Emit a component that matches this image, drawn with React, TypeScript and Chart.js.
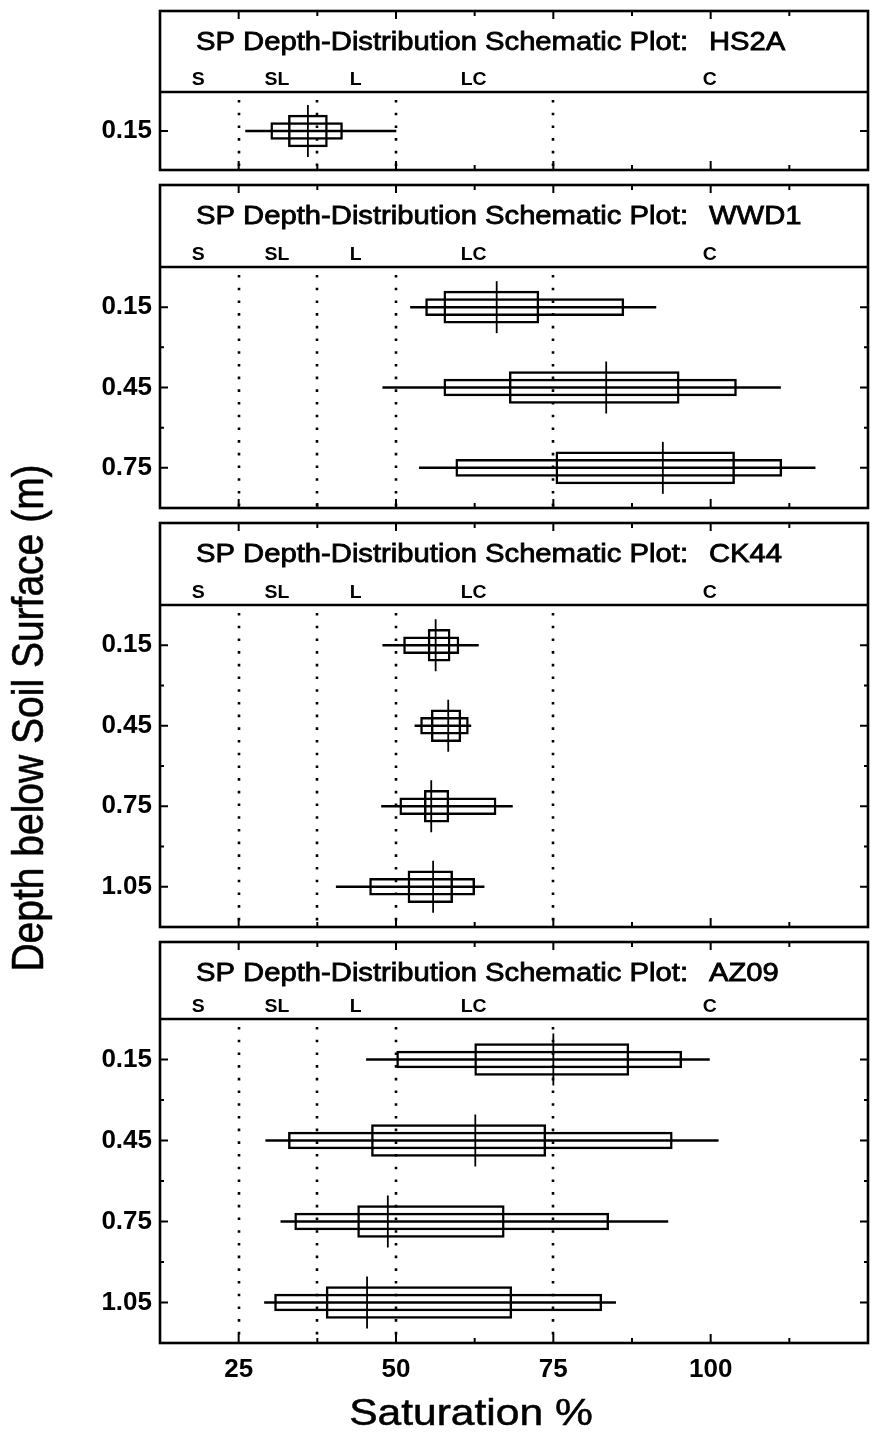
import React, { useEffect, useRef } from 'react';
import { Chart, registerables } from 'chart.js';

Chart.register(...registerables);

const FONT = '"Liberation Sans", Arial, Helvetica, sans-serif';

// ---- x axis: saturation % ----
const xMin = 12.5;
const xMax = 125;
const xStep = 12.5;
const xLabeledTicks = [25, 50, 75, 100];

// ---- soil texture classes shown in each header ----
const textureNames = ['S', 'SL', 'L', 'LC', 'C'];
const textureLabelAt = [18.75, 31.25, 43.75, 62.5, 100];
const textureBoundaries = [25, 37.5, 50, 75];

// ---- y axis: depth (m) ----
const depthStep = 0.15;
const siteMaxDepth = [0.3, 0.9, 1.2, 1.2];

// ---- site ids ----
const siteIds = ['HS2A', 'WWD1', 'CK44', 'AZ09'];

// ---- HS2A ----
const hs2aDepth = [0.15];
const hs2aMin = [26.1];
const hs2aP10 = [30.1];
const hs2aP25 = [32.9];
const hs2aMedian = [36.0];
const hs2aP75 = [39.1];
const hs2aP90 = [41.5];
const hs2aMax = [50.0];

// ---- WWD1 ----
const wwd1Depth = [0.15, 0.45, 0.75];
const wwd1Min = [52.3, 47.9, 53.7];
const wwd1P10 = [54.7, 57.6, 59.5];
const wwd1P25 = [57.6, 68.0, 75.4];
const wwd1Median = [66.0, 83.4, 92.4];
const wwd1P75 = [72.7, 95.0, 103.8];
const wwd1P90 = [86.2, 104.1, 111.3];
const wwd1Max = [91.3, 111.1, 116.6];

// ---- CK44 ----
const ck44Depth = [0.15, 0.45, 0.75, 1.05];
const ck44Min = [47.9, 53.0, 47.7, 40.5];
const ck44P10 = [51.2, 53.9, 50.6, 45.8];
const ck44P25 = [55.1, 55.6, 54.5, 51.9];
const ck44Median = [56.3, 58.3, 55.6, 55.9];
const ck44P75 = [58.6, 60.3, 58.4, 59.0];
const ck44P90 = [60.0, 61.5, 65.9, 62.5];
const ck44Max = [63.1, 61.9, 68.5, 64.0];

// ---- AZ09 ----
const az09Depth = [0.15, 0.45, 0.75, 1.05];
const az09Min = [45.3, 29.3, 31.7, 29.1];
const az09P10 = [50.1, 32.9, 33.9, 30.7];
const az09P25 = [62.5, 46.1, 43.9, 38.9];
const az09Median = [75.0, 62.6, 48.7, 45.4];
const az09P75 = [87.0, 73.8, 67.2, 68.4];
const az09P90 = [95.4, 93.9, 83.8, 82.7];
const az09Max = [99.8, 101.2, 93.2, 84.9];

const sites = [
  { depth: hs2aDepth, min: hs2aMin, p10: hs2aP10, p25: hs2aP25, med: hs2aMedian, p75: hs2aP75, p90: hs2aP90, max: hs2aMax },
  { depth: wwd1Depth, min: wwd1Min, p10: wwd1P10, p25: wwd1P25, med: wwd1Median, p75: wwd1P75, p90: wwd1P90, max: wwd1Max },
  { depth: ck44Depth, min: ck44Min, p10: ck44P10, p25: ck44P25, med: ck44Median, p75: ck44P75, p90: ck44P90, max: ck44Max },
  { depth: az09Depth, min: az09Min, p10: az09P10, p25: az09P25, med: az09Median, p75: az09P75, p90: az09P90, max: az09Max },
];

// ---- page layout (pixels) ----
const PAGE_W = 880;
const PAGE_H = 1435;
const PLOT_LEFT = 160;
const PLOT_RIGHT = 868;
const panelLayout = [
  { top: 11, divider: 92, bottom: 170 },
  { top: 185, divider: 267, bottom: 508 },
  { top: 523, divider: 605, bottom: 927 },
  { top: 942, divider: 1019, bottom: 1343 },
];

function drawScaledText(ctx: CanvasRenderingContext2D, text: string, x: number, y: number, sx: number, stroke: number) {
  ctx.save();
  ctx.translate(x, y);
  ctx.scale(sx, 1);
  ctx.fillText(text, 0, 0);
  if (stroke > 0) {
    ctx.lineWidth = stroke;
    ctx.strokeText(text, 0, 0);
  }
  ctx.restore();
}

function Panel({ idx }: { idx: number }) {
  const ref = useRef<HTMLCanvasElement>(null);
  const L = panelLayout[idx];
  const isLast = idx === panelLayout.length - 1;
  const canvasTop = L.top - 6;
  const canvasBottom = isLast ? PAGE_H : L.bottom + 6;
  const h = canvasBottom - canvasTop;

  useEffect(() => {
    const s = sites[idx];
    const headerH = L.divider - L.top;

    const decor = {
      id: 'decor',
      beforeDatasetsDraw(chart: any) {
        const { ctx, chartArea: a, scales } = chart;
        const x = scales.x;
        ctx.save();
        ctx.strokeStyle = '#000';
        ctx.lineWidth = 2.6;
        ctx.setLineDash([2.6, 10.1]);
        ctx.lineDashOffset = -6;
        for (const v of textureBoundaries) {
          const px = Math.round(x.getPixelForValue(v));
          ctx.beginPath();
          ctx.moveTo(px, a.top + 2);
          ctx.lineTo(px, a.bottom - 1);
          ctx.stroke();
        }
        ctx.restore();
      },
      afterDatasetsDraw(chart: any) {
        const { ctx, chartArea: a, scales } = chart;
        const x = scales.x;
        const y = scales.y;
        const headerTop = a.top - headerH;
        ctx.save();
        ctx.strokeStyle = '#000';
        ctx.fillStyle = '#000';
        ctx.setLineDash([]);
        // frame + divider
        ctx.lineWidth = 2.6;
        ctx.strokeRect(a.left, headerTop, a.right - a.left, a.bottom - headerTop);
        ctx.beginPath();
        ctx.moveTo(a.left, a.top);
        ctx.lineTo(a.right, a.top);
        ctx.stroke();
        // x tick marks (header top & plot bottom, pointing inward)
        ctx.lineWidth = 2;
        x.ticks.forEach((t: any) => {
          if (t.value <= xMin + 1e-9 || t.value >= xMax - 1e-9) return;
          const px = x.getPixelForValue(t.value);
          const major = xLabeledTicks.includes(t.value);
          ctx.beginPath();
          ctx.moveTo(px, headerTop);
          ctx.lineTo(px, headerTop + (major ? 8 : 5));
          ctx.moveTo(px, a.bottom);
          ctx.lineTo(px, a.bottom - (major ? 9 : 5));
          ctx.stroke();
        });
        // y tick marks (left & right)
        y.ticks.forEach((t: any, i: number) => {
          if (t.value <= y.min + 1e-9 || t.value >= y.max - 1e-9) return;
          const py = y.getPixelForValue(t.value);
          const len = i % 2 === 1 ? 8 : 4;
          ctx.beginPath();
          ctx.moveTo(a.left, py);
          ctx.lineTo(a.left + len, py);
          ctx.moveTo(a.right, py);
          ctx.lineTo(a.right - len, py);
          ctx.stroke();
        });
        // header title
        ctx.font = `26px ${FONT}`;
        ctx.textAlign = 'left';
        ctx.textBaseline = 'alphabetic';
        const main = 'SP Depth-Distribution Schematic Plot:';
        const sx = 492 / ctx.measureText(main).width;
        const base = headerTop + 38.5;
        drawScaledText(ctx, main, 196, base, sx, 0.8);
        drawScaledText(ctx, siteIds[idx], 709, base, sx, 0.8);
        // texture class labels
        ctx.font = `bold 18px ${FONT}`;
        ctx.textAlign = 'center';
        textureNames.forEach((name, k) => {
          const px = x.getPixelForValue(textureLabelAt[k]);
          drawScaledText(ctx, name, px - 1, a.top - 7, 1.08, 0);
        });
        ctx.restore();
      },
    };

    const lineColor = '#000';
    const chart = new Chart(ref.current as HTMLCanvasElement, {
      type: 'bar',
      data: {
        datasets: [
          {
            type: 'bar',
            label: 'range',
            indexAxis: 'y',
            grouped: false,
            barThickness: 1.8,
            data: s.depth.map((d, i) => ({ x: [s.min[i], s.max[i]], y: d })),
            backgroundColor: lineColor,
            borderWidth: 0,
          } as any,
          {
            type: 'bar',
            label: '10-90',
            indexAxis: 'y',
            grouped: false,
            barThickness: 17,
            data: s.depth.map((d, i) => ({ x: [s.p10[i], s.p90[i]], y: d })),
            backgroundColor: 'rgba(0,0,0,0)',
            borderColor: lineColor,
            borderWidth: 1.8,
            borderSkipped: false,
          } as any,
          {
            type: 'bar',
            label: '25-75',
            indexAxis: 'y',
            grouped: false,
            barThickness: 32,
            data: s.depth.map((d, i) => ({ x: [s.p25[i], s.p75[i]], y: d })),
            backgroundColor: 'rgba(0,0,0,0)',
            borderColor: lineColor,
            borderWidth: 1.8,
            borderSkipped: false,
          } as any,
          {
            type: 'scatter',
            label: 'median',
            data: s.depth.map((d, i) => ({ x: s.med[i], y: d })),
            showLine: false,
            pointStyle: 'line',
            pointRotation: 90,
            pointRadius: 26,
            pointHoverRadius: 26,
            pointBorderColor: lineColor,
            pointBorderWidth: 1.8,
            borderColor: lineColor,
          } as any,
        ],
      },
      options: {
        responsive: false,
        animation: false,
        events: [],
        layout: {
          autoPadding: false,
          padding: {
            top: L.divider - canvasTop,
            bottom: isLast ? 0 : canvasBottom - L.bottom,
            left: 0,
            right: PAGE_W - PLOT_RIGHT,
          },
        },
        plugins: { legend: { display: false }, tooltip: { enabled: false }, title: { display: false } },
        scales: {
          x: {
            type: 'linear',
            position: 'bottom',
            display: true,
            offset: false,
            min: xMin,
            max: xMax,
            grid: { display: false, drawTicks: false, offset: false },
            border: { display: false },
            ticks: {
              display: isLast,
              stepSize: xStep,
              autoSkip: false,
              maxRotation: 0,
              padding: 11,
              color: '#000',
              font: { family: FONT, size: 26, weight: 'bold' },
              callback: (v: any) => (xLabeledTicks.includes(Number(v)) ? String(v) : ''),
            },
            afterFit: (sc: any) => {
              sc.height = isLast ? PAGE_H - L.bottom : 0;
              sc.paddingLeft = 0;
              sc.paddingRight = 0;
            },
          },
          y: {
            type: 'linear',
            position: 'left',
            reverse: true,
            offset: false,
            min: 0,
            max: siteMaxDepth[idx],
            grid: { display: false, drawTicks: false, offset: false },
            border: { display: false },
            ticks: {
              stepSize: depthStep,
              autoSkip: false,
              padding: 8,
              color: '#000',
              font: { family: FONT, size: 26, weight: 'bold' },
              callback: (v: any, i: number) => (i % 2 === 1 ? Number(v).toFixed(2) : ''),
            },
            afterFit: (sc: any) => {
              sc.width = PLOT_LEFT;
              sc.paddingTop = 0;
              sc.paddingBottom = 0;
            },
          },
        },
      } as any,
      plugins: [decor],
    });
    return () => chart.destroy();
  }, []);

  return (
    <canvas
      ref={ref}
      width={PAGE_W}
      height={h}
      style={{ position: 'absolute', left: 0, top: canvasTop, width: PAGE_W, height: h, display: 'block' }}
    />
  );
}

export default function App() {
  return (
    <div
      style={{
        position: 'absolute',
        left: 0,
        top: 0,
        width: PAGE_W,
        height: PAGE_H,
        background: '#fff',
        overflow: 'hidden',
        fontFamily: FONT,
        color: '#000',
      }}
    >
      {panelLayout.map((_, i) => (
        <Panel key={i} idx={i} />
      ))}
      <div
        style={{
          position: 'absolute',
          left: 28 - 300,
          top: 718 - 23,
          width: 600,
          height: 46,
          lineHeight: '46px',
          fontSize: 39,
          textAlign: 'center',
          whiteSpace: 'nowrap',
          transform: 'rotate(-90deg) scaleY(1.13)',
          transformOrigin: '50% 50%',
          WebkitTextStroke: '0.5px #000',
        }}
      >
        Depth below Soil Surface (m)
      </div>
      <div
        style={{
          position: 'absolute',
          left: 471 - 150,
          top: 1391,
          width: 300,
          height: 44,
          lineHeight: '44px',
          fontSize: 37,
          textAlign: 'center',
          whiteSpace: 'nowrap',
          transform: 'scaleX(1.15)',
          transformOrigin: '50% 50%',
          WebkitTextStroke: '0.5px #000',
        }}
      >
        Saturation %
      </div>
    </div>
  );
}
